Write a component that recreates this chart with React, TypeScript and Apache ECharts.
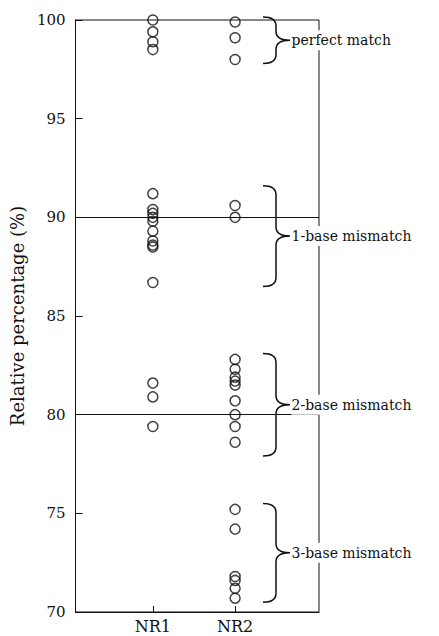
import React, { useEffect, useRef } from "react";
import * as echarts from "echarts";

const categories = ["NR1", "NR2"];
const nr1Values = [100.0, 99.4, 98.9, 98.5, 91.2, 90.4, 90.2, 90.0, 89.8, 89.3, 88.8, 88.6, 88.5, 86.7, 81.6, 80.9, 79.4];
const nr2Values = [99.9, 99.1, 98.0, 90.6, 90.0, 82.8, 82.3, 81.9, 81.7, 81.5, 80.7, 80.0, 79.4, 78.6, 75.2, 74.2, 71.8, 71.6, 71.2, 70.7];
const refLines = [90, 80];
const braceRanges = [
  [100.15, 97.8],
  [91.6, 86.5],
  [83.1, 77.9],
  [75.5, 70.5],
];
const braceLabels = ["perfect match", "1-base mismatch", "2-base mismatch", "3-base mismatch"];

const FONT = "DejaVu Serif";
const INK = "#111";

export default function App() {
  const ref = useRef<HTMLDivElement>(null);
  useEffect(() => {
    if (!ref.current) return;
    const chart = echarts.init(ref.current, null, { renderer: "svg" });
    const scatterStyle = {
      type: "scatter",
      symbol: "circle",
      symbolSize: 10,
      itemStyle: { color: "rgba(255,255,255,0)", borderColor: INK, borderWidth: 1.5 },
      silent: true,
    };
    chart.setOption({
      animation: false,
      backgroundColor: "#fff",
      textStyle: { fontFamily: FONT },
      grid: { left: 70, right: 120, top: 20, bottom: 24, show: true, borderColor: INK, borderWidth: 1, backgroundColor: "transparent" },
      xAxis: {
        type: "value",
        min: 0.06,
        max: 3.02,
        splitLine: { show: false },
        axisLine: { show: true, lineStyle: { color: INK, width: 1 } },
        axisTick: { show: true, inside: true, length: 6, customValues: [1, 2], lineStyle: { color: INK } },
        axisLabel: {
          customValues: [1, 2],
          formatter: (v: number) => categories[Math.round(v) - 1] ?? "",
          color: INK,
          fontFamily: FONT,
          fontSize: 16,
          margin: 6,
        },
      },
      yAxis: {
        type: "value",
        min: 70,
        max: 100,
        interval: 5,
        name: "Relative percentage (%)",
        nameLocation: "middle",
        nameRotate: 90,
        nameGap: 49,
        nameTextStyle: { color: INK, fontFamily: FONT, fontSize: 18 },
        splitLine: { show: false },
        axisLine: { show: true, lineStyle: { color: INK, width: 1 } },
        axisTick: { show: true, inside: true, length: 7, lineStyle: { color: INK } },
        axisLabel: { color: INK, fontFamily: FONT, fontSize: 15, margin: 10 },
      },
      series: [
        {
          ...scatterStyle,
          name: categories[0],
          data: nr1Values.map((v) => [1, v]),
          markLine: {
            silent: true,
            symbol: "none",
            label: { show: false },
            lineStyle: { color: INK, width: 1, type: "solid" },
            data: refLines.map((v) => ({ yAxis: v })),
          },
        },
        {
          ...scatterStyle,
          name: categories[1],
          data: nr2Values.map((v) => [2, v]),
        },
        {
          type: "custom",
          silent: true,
          z: 5,
          clip: false,
          data: braceRanges.map((r, i) => [r[0], r[1], i]),
          encode: { y: [0, 1] },
          renderItem: (params: any, api: any) => {
            const cs = params.coordSys;
            const right = cs.x + cs.width;
            const yT = api.coord([1, api.value(0)])[1];
            const yB = api.coord([1, api.value(1)])[1];
            const yM = (yT + yB) / 2;
            const x0 = right - 56;
            const xm = right - 43;
            const x1 = right - 29;
            const r = 9;
            const d =
              `M${x0} ${yT} Q${xm} ${yT} ${xm} ${yT + r} L${xm} ${yM - r} ` +
              `Q${xm} ${yM} ${x1} ${yM} Q${xm} ${yM} ${xm} ${yM + r} ` +
              `L${xm} ${yB - r} Q${xm} ${yB} ${x0} ${yB}`;
            const idx = api.value(2);
            return {
              type: "group",
              children: [
                {
                  type: "path",
                  shape: { pathData: d },
                  style: { fill: "none", stroke: INK, lineWidth: 1.5 },
                },
                {
                  type: "text",
                  x: x1 + 1.5,
                  y: yM,
                  style: {
                    text: braceLabels[idx],
                    fill: INK,
                    fontSize: 14,
                    fontFamily: FONT,
                    verticalAlign: "middle",
                    align: "left",
                    backgroundColor: "#fff",
                    padding: [3, 0, 3, 0],
                  },
                },
              ],
            };
          },
        },
      ],
    });
    return () => chart.dispose();
  }, []);
  return <div ref={ref} style={{ position: "fixed", left: 0, top: 0, width: 439, height: 636 }} />;
}
